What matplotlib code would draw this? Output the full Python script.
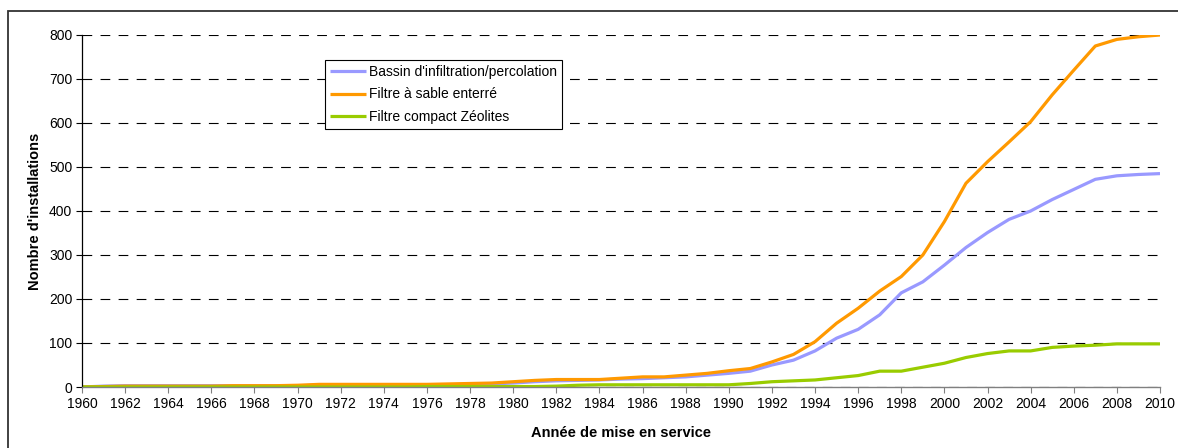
import matplotlib
matplotlib.use("Agg")
import matplotlib.pyplot as plt
from matplotlib.patches import Rectangle

plt.rcParams['font.family'] = ['Liberation Sans', 'DejaVu Sans']
plt.rcParams['lines.scale_dashes'] = False

# Nombre cumulé d'installations par année de mise en service
annees = list(range(1960, 2011))

bassin = [0, 2, 3, 3, 3, 3, 3, 3, 3, 3,
          3, 4, 4, 4, 4, 5, 5, 5, 6, 7,
          9, 12, 14, 15, 16, 18, 19, 21, 23, 27,
          31, 36, 50, 61, 82, 111, 131, 164, 214, 239,
          277, 317, 351, 381, 400, 426, 449, 472, 480, 483,
          485]

filtre_sable = [0, 1, 2, 2, 2, 2, 2, 3, 3, 3,
                4, 6, 6, 6, 6, 6, 6, 7, 8, 9,
                12, 15, 17, 17, 17, 20, 23, 23, 27, 31,
                37, 42, 57, 74, 103, 145, 179, 218, 251, 300,
                376, 463, 512, 557, 603, 664, 720, 775, 790, 796,
                800]

zeolites = [0, 0, 0, 0, 0, 0, 0, 0, 0, 0,
            0, 0, 0, 0, 0, 0, 1, 1, 1, 1,
            1, 1, 2, 4, 5, 5, 5, 5, 5, 5,
            5, 8, 12, 14, 16, 21, 26, 36, 36, 45,
            54, 67, 76, 82, 82, 90, 93, 95, 98, 98,
            98]

noms = ["Bassin d'infiltration/percolation",
        "Filtre à sable enterré",
        "Filtre compact Zéolites"]
couleurs = ["#9999FF", "#FF9900", "#99CC00"]

fig = plt.figure(figsize=(11.78, 4.48), dpi=100)
ax = fig.add_axes([82 / 1178, 1 - 387 / 448, (1160 - 82) / 1178, (387 - 35) / 448])

for serie, nom, c in zip([bassin, filtre_sable, zeolites], noms, couleurs):
    ax.plot(annees, serie, color=c, lw=2.3, label=nom, solid_capstyle='butt')

ax.set_xlim(1960, 2010)
ax.set_ylim(0, 800)
ax.set_xticks(range(1960, 2011, 2))
ax.set_yticks(range(0, 801, 100))
ax.tick_params(axis='both', labelsize=10, length=4, width=0.8)
ax.tick_params(axis='x', direction='out', colors='#808080', labelcolor='black', pad=3)
ax.tick_params(axis='y', direction='out', pad=3)

ax.yaxis.grid(True, color='black', lw=0.8, linestyle=(0, (7, 6)))
ax.set_axisbelow(True)
for s in ['top', 'right']:
    ax.spines[s].set_visible(False)
ax.spines['left'].set_color('black')
ax.spines['left'].set_linewidth(0.9)
ax.spines['bottom'].set_color('#808080')
ax.spines['bottom'].set_linewidth(1.0)

ax.set_xlabel("Année de mise en service", fontsize=10.5, fontweight='bold', labelpad=11)
ax.set_ylabel("Nombre d'installations", fontsize=10.5, fontweight='bold', labelpad=5)

leg = ax.legend(loc='upper left', bbox_to_anchor=(325 / 1178, 1 - 60 / 448),
                bbox_transform=fig.transFigure, fontsize=10, frameon=True,
                fancybox=False, framealpha=1, edgecolor='black',
                handlelength=2.6, handletextpad=0.2, borderpad=0.35,
                labelspacing=0.62, borderaxespad=0)
leg.get_frame().set_linewidth(0.8)

# cadre du graphique
fig.patches.append(Rectangle((8 / 1178, -0.1), 2, 1 - 11 / 448 + 0.1,
                             transform=fig.transFigure, fill=False,
                             edgecolor='#333333', lw=1.3))

fig.savefig("out.png", dpi=100)
